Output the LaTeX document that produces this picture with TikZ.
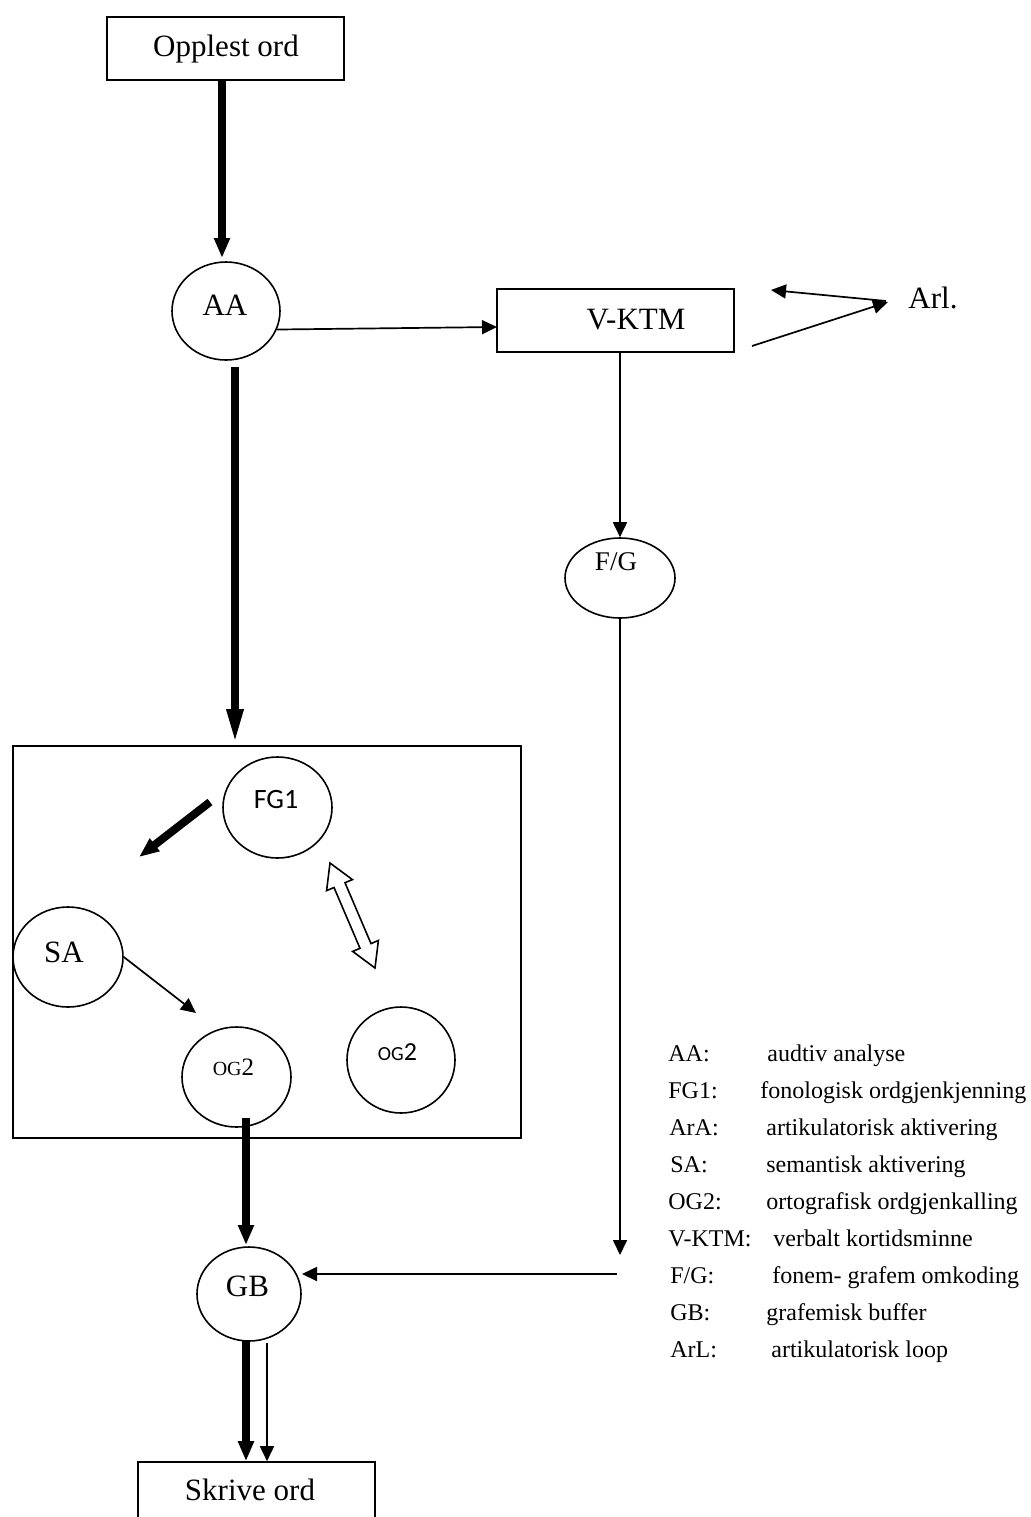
\documentclass[tikz,border=0pt]{standalone}
\usepackage{fontspec}
\setmainfont{Liberation Serif}
\newfontfamily\calibri{Carlito}
\usetikzlibrary{arrows.meta,shapes.geometric,calc}
\newcommand\setfs[1]{\fontsize{#1pt}{#1pt}\selectfont}
\begin{document}
\begin{tikzpicture}[x=0.5pt,y=-0.5pt,
  ell/.style={draw, ellipse, line width=0.8pt, inner sep=0pt},
  boxn/.style={draw, rectangle, line width=0.8pt, inner sep=0pt},
  lbl/.style={font=\setfs{15.5}, inner sep=0pt},
  thinarr/.style={line width=0.85pt, -{Triangle[length=7.5pt,width=7pt]}},
  bigarr/.style={line width=4pt, -{Triangle[length=10pt,width=7.5pt]}},
  longhead/.style={line width=4pt, -{Triangle[length=18pt,width=7.5pt]}},
  leg/.style={anchor=base west, font=\setfs{12}, inner sep=0pt}]
\useasboundingbox (0,0) rectangle (1030,1517);

% nodes
\node[boxn, minimum width=118.5pt, minimum height=31.5pt] (opp) at (225.5,48.5) {};
\node[lbl] (opptxt) at (226,49) {Opplest ord};

\node[ell, minimum width=54pt, minimum height=49pt] (AA) at (226,311) {};
\node[lbl] (AAtxt) at (225,305) {AA};

\node[boxn, minimum width=118.5pt, minimum height=31.5pt] (VK) at (615.5,320.5) {};
\node[lbl] (VKtxt) at (636,320) {V-KTM};

\node[lbl] (arl) at (933,298) {Arl.};

\node[ell, minimum width=55pt, minimum height=40pt] (FGc) at (620,578) {};
\node[font=\setfs{13.5}, inner sep=0pt] (FGctxt) at (616,562) {F/G};

\node[boxn, minimum width=254pt, minimum height=196pt] (big) at (267,942) {};

\node[ell, minimum width=54.5pt, minimum height=50.5pt] (FG1) at (277.5,807.5) {};
\node[font=\calibri\setfs{14}, inner sep=0pt] (FG1txt) at (276,799) {FG1};

\node[ell, minimum width=55pt, minimum height=50pt] (SA) at (68,957) {};
\node[lbl] (SAtxt) at (64,952) {SA};

\node[ell, minimum width=54.5pt, minimum height=50pt] (OGa) at (236.5,1077) {};
\node[inner sep=0pt] (OGatxt) at (233.5,1067) {{\setfs{10}OG}{\setfs{12.5}2}};

\node[ell, minimum width=54pt, minimum height=53pt] (OGb) at (401,1060) {};
\node[inner sep=0pt, font=\calibri] (OGbtxt) at (397.5,1052) {{\setfs{10}OG}{\setfs{13}2}};

\node[ell, minimum width=52pt, minimum height=47pt] (GB) at (249,1294) {};
\node[lbl] (GBtxt) at (247.5,1286) {GB};

\node[boxn, minimum width=118.5pt, minimum height=36pt] (sk) at (256.5,1498) {};
\node[lbl] (sktxt) at (250,1490) {Skrive ord};

% coordinates for free ends
\coordinate (a1) at (222,258);
\coordinate (vkin) at (497,327);
\coordinate (fgend) at (620,1255);
\coordinate (gbfrom) at (617,1274);
\coordinate (gbin) at (302,1274);
\coordinate (a2s) at (235,367);
\coordinate (a3s) at (210,802);
\coordinate (a3e) at (139,857);
\coordinate (saend) at (196,1013);
\coordinate (og2s) at (246,1118);
\coordinate (gbtop) at (246,1245);
\coordinate (gbs1) at (246,1340);
\coordinate (gbs2) at (267,1343);
\coordinate (arl1) at (752,346);
\coordinate (arl2) at (888,302);
\coordinate (arl2b) at (886,301);
\coordinate (arl3) at (771,290);

% connectors
\draw[bigarr] (opp.south -| a1) -- (a1);
\draw[thinarr] (AA.-20) -- (vkin);
\draw[thinarr] (VK.south -| FGc.north) -- (FGc.north);
\draw[thinarr] (FGc.south) -- (fgend);
\draw[thinarr] (gbfrom) -- (gbin);
\draw[longhead] (a2s) -- (a2s |- big.north);
\draw[bigarr] (a3s) -- (a3e);
\draw[thinarr] (SA.east) -- (saend);
\draw[bigarr] (og2s) -- (gbtop);
\draw[bigarr] (gbs1) -- (gbs1 |- sk.north);
\draw[thinarr] (gbs2) -- (gbs2 |- sk.north);
\draw[thinarr] (arl1) -- (arl2);
\draw[thinarr] (arl2b) -- (arl3);

% hollow double arrow
\draw[line width=0.8pt, fill=white, line join=miter]
  (330,863) -- (352.4,879.6) -- (345.0,882.7) -- (371.0,943.6) -- (378.4,940.4)
  -- (375,968) -- (352.7,951.4) -- (360.0,948.3) -- (334.0,887.5) -- (326.6,890.6) -- cycle;

% legend
\node[leg] (l1) at (668,1061) {AA:};    \node[leg] (d1) at (767,1061) {audtiv analyse};
\node[leg] (l2) at (668,1098) {FG1:};   \node[leg] (d2) at (760,1098) {fonologisk ordgjenkjenning};
\node[leg] (l3) at (669,1135) {ArA:};   \node[leg] (d3) at (766,1135) {artikulatorisk aktivering};
\node[leg] (l4) at (670,1172) {SA:};    \node[leg] (d4) at (766,1172) {semantisk aktivering};
\node[leg] (l5) at (668,1209) {OG2:};   \node[leg] (d5) at (766,1209) {ortografisk ordgjenkalling};
\node[leg] (l6) at (668,1246) {V-KTM:}; \node[leg] (d6) at (773,1246) {verbalt kortidsminne};
\node[leg] (l7) at (670,1283) {F/G:};   \node[leg] (d7) at (772,1283) {fonem- grafem omkoding};
\node[leg] (l8) at (670,1320) {GB:};    \node[leg] (d8) at (766,1320) {grafemisk buffer};
\node[leg] (l9) at (670,1357) {ArL:};   \node[leg] (d9) at (771,1357) {artikulatorisk loop};
\end{tikzpicture}
\end{document}
